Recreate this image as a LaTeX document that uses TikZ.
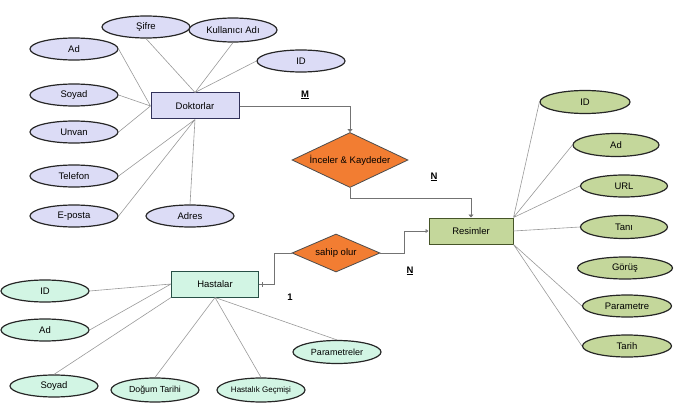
\documentclass[tikz,border=0pt]{standalone}
\usepackage{fontspec}
\setmainfont{Liberation Sans}
\usepackage{xcolor}
\usepackage{tikz}
\usetikzlibrary{arrows.meta,shapes.geometric}
\definecolor{dokfill}{RGB}{220,220,246}
\definecolor{dokline}{RGB}{50,50,90}
\definecolor{hasfill}{RGB}{210,245,228}
\definecolor{hasline}{RGB}{40,80,70}
\definecolor{resfill}{RGB}{196,215,155}
\definecolor{resline}{RGB}{70,85,40}
\definecolor{relfill}{RGB}{242,125,50}
\tikzset{
  ent/.style={rectangle,draw,line width=1pt,minimum width=87pt,minimum height=26pt,inner sep=0pt},
  atr/.style={ellipse,draw=black!85,line width=1.2pt,minimum width=88pt,minimum height=22pt,inner sep=0pt},
  rel/.style={diamond,draw=black!70,fill=relfill,line width=0.8pt,inner sep=0pt,aspect=2},
  lnk/.style={gray!80,line width=0.6pt},
  rlk/.style={gray!90!black,line width=0.9pt},
  card/.style={font=\bfseries\fontsize{9.5}{10}\selectfont}
}
\newcommand{\txt}{\fontsize{9.5}{11}\selectfont}

\begin{document}
\begin{tikzpicture}[x=1pt,y=-1pt,font=\txt]
\useasboundingbox (0,0) rectangle (685,414);
% Doktorlar
\node[ent,draw=dokline,fill=dokfill,minimum width=88pt] (dok) at (195,106) {Doktorlar};
\node[atr,fill=dokfill] (dsif) at (146,27) {Şifre};
\node[atr,fill=dokfill,minimum height=24pt] (dkul) at (233,30) {Kullanıcı Adı};
\node[atr,fill=dokfill] (dad) at (74,49) {Ad};
\node[atr,fill=dokfill] (did) at (301,61) {ID};
\node[atr,fill=dokfill] (dsoy) at (74,95) {Soyad};
\node[atr,fill=dokfill] (dunv) at (74,132) {Unvan};
\node[atr,fill=dokfill] (dtel) at (74,176) {Telefon};
\node[atr,fill=dokfill] (dpos) at (74,216) {E-posta};
\node[atr,fill=dokfill] (dadr) at (190,216) {Adres};
\draw[lnk] (dsif.south) -- (dok.north) (dkul.south) -- (dok.north) (did.west) -- (dok.north);
\draw[lnk] (dad.east) -- (dok.west) (dsoy.east) -- (dok.west) (dunv.east) -- (dok.west);
\draw[lnk] (dtel.east) -- (dok.south) (dpos.east) -- (dok.south) (dadr.north) -- (dok.south);

% Resimler
\node[ent,draw=resline,fill=resfill,minimum width=84pt] (res) at (471,231) {Resimler};
\node[atr,fill=resfill,minimum width=90pt,minimum height=23pt] (rid) at (585,102) {ID};
\node[atr,fill=resfill,minimum width=86pt,minimum height=23pt] (rad) at (616,145) {Ad};
\node[atr,fill=resfill,minimum width=87pt] (rurl) at (624,186) {URL};
\node[atr,fill=resfill,minimum width=87pt,minimum height=23pt] (rtan) at (624,227) {Tanı};
\node[atr,fill=resfill,minimum width=95pt] (rgor) at (625,268) {Görüş};
\node[atr,fill=resfill,minimum width=89pt] (rpar) at (627,306) {Parametre};
\node[atr,fill=resfill,minimum width=89pt] (rtar) at (627,346) {Tarih};
\draw[lnk] (rid.west) -- (res.north east) (rad.west) -- (res.north east) (rurl.west) -- (res.north east);
\draw[lnk] (rtan.west) -- (res.east);
\draw[lnk] (rpar.west) -- (res.south east) (rtar.west) -- (res.south east);

% Hastalar
\node[ent,draw=hasline,fill=hasfill] (has) at (215,284) {Hastalar};
\node[atr,fill=hasfill] (hid) at (45,291) {ID};
\node[atr,fill=hasfill] (had) at (45,330) {Ad};
\node[atr,fill=hasfill] (hsoy) at (54,386) {Soyad};
\node[atr,fill=hasfill,minimum height=24pt,font=\fontsize{8.8}{10}\selectfont] (hdog) at (155,390) {Doğum Tarihi};
\node[atr,fill=hasfill,minimum height=24pt,font=\fontsize{8}{10}\selectfont] (hgec) at (261,390) {Hastalık Geçmişi};
\node[atr,fill=hasfill,minimum height=23pt,font=\fontsize{9}{10}\selectfont] (hpar) at (337,352) {Parametreler};
\draw[lnk] (hid.east) -- (has.west) (had.east) -- (has.west) (hsoy.north) -- (has.south west);
\draw[lnk] (hdog.north) -- (has.south) (hgec.north) -- (has.south) (hpar.north) -- (has.south);

% iliskiler
\node[rel,minimum width=116pt,minimum height=55pt] (inc) at (350,160) {İnceler \& Kaydeder};
\node[rel,minimum width=88pt,minimum height=38pt] (sah) at (336,253) {sahip olur};
\draw[rlk,-{Triangle[length=3pt,width=5pt]}] (dok.east) -| (inc.north);
\draw[rlk,-{Triangle[length=3pt,width=5pt]}] (inc.south) -- ++(0,11) -| (res.north);
\draw[rlk,-{Triangle[open,length=3pt,width=4pt]}] (sah.east) -- ++(24,0) |- (res.west);
\draw[rlk,-{Bar[width=5pt]}] (sah.west) -- ++(-17,0) |- ([xshift=3pt]has.east);
\draw[gray!90!black,line width=0.9pt] ([xshift=3pt]has.east) -- (has.east);

% kardinalite
\node[card] (cm) at (305,95) {\underline{M}};
\node[card] (cn1) at (434,177) {\underline{N}};
\node[card] (cn2) at (410,271) {\underline{N}};
\node[card] (c1) at (290,297) {1};
\end{tikzpicture}
\end{document}
